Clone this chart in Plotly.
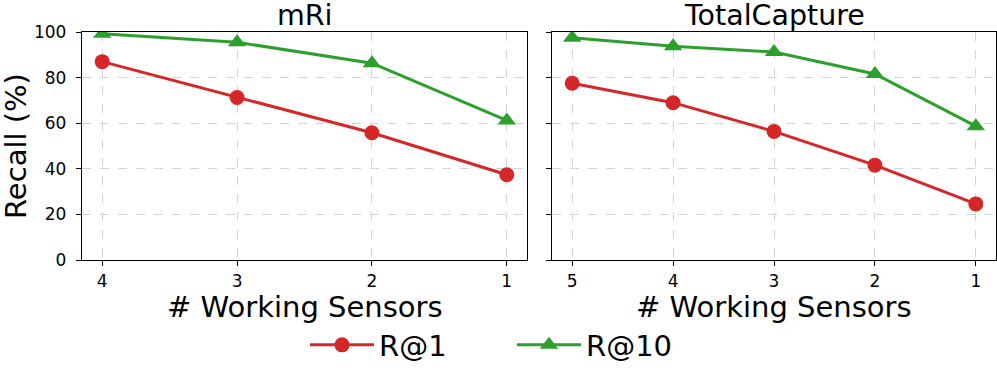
import plotly.graph_objects as go

# ---- data ----
mri_sensors = [4, 3, 2, 1]
mri_r1 = [87.0, 71.3, 55.8, 37.4]
mri_r10 = [99.2, 95.5, 86.3, 61.2]

tc_sensors = [5, 4, 3, 2, 1]
tc_r1 = [77.5, 69.0, 56.4, 41.6, 24.6]
tc_r10 = [97.5, 93.8, 91.2, 81.6, 58.7]

panel_titles = ["mRi", "TotalCapture"]
series_names = ["R@1", "R@10"]
y_ticks = [0, 20, 40, 60, 80, 100]

RED = "#d62728"
GREEN = "#2ca02c"
FONT = "DejaVu Sans"
W, H = 997, 374

fig = go.Figure()

panels = [
    ("x", "y", mri_sensors, mri_r1, mri_r10),
    ("x2", "y2", tc_sensors, tc_r1, tc_r10),
]
for i, (xa, ya, xs, r1, r10) in enumerate(panels):
    fig.add_trace(go.Scatter(
        x=xs, y=r1, xaxis=xa, yaxis=ya, mode="lines+markers", name=series_names[0],
        line=dict(color=RED, width=3), marker=dict(symbol="circle", size=15, color=RED),
        showlegend=(i == 0), legendgroup="r1"))
    fig.add_trace(go.Scatter(
        x=xs, y=r10, xaxis=xa, yaxis=ya, mode="lines+markers", name=series_names[1],
        line=dict(color=GREEN, width=3), marker=dict(symbol="triangle-up", size=16, color=GREEN),
        showlegend=(i == 0), legendgroup="r10"))

dom_x1 = [82 / W, 527 / W]
dom_x2 = [552 / W, 996 / W]
dom_y = [1 - 260 / H, 1 - 32 / H]

common_axis = dict(
    showline=True, linecolor="black", linewidth=1.3, mirror=True,
    ticks="outside", ticklen=5, tickwidth=1.3, tickcolor="black",
    showgrid=True, gridcolor="#d4d4d4", gridwidth=1, griddash="dash",
    zeroline=False, automargin=False,
    tickfont=dict(family=FONT, size=17, color="black"),
)

def xr(xs):
    n = max(xs) - min(xs)
    m = 0.05 * n
    return [max(xs) + m, min(xs) - m]

fig.update_layout(
    xaxis=dict(domain=dom_x1, range=xr(mri_sensors), tickvals=mri_sensors, anchor="y", **common_axis),
    yaxis=dict(domain=dom_y, range=[0, 100], tickvals=y_ticks, anchor="x", ticklabelstandoff=6, **common_axis),
    xaxis2=dict(domain=dom_x2, range=xr(tc_sensors), tickvals=tc_sensors, anchor="y2", **common_axis),
    yaxis2=dict(domain=dom_y, range=[0, 100], tickvals=y_ticks, anchor="x2", showticklabels=False, **common_axis),
)

ann = []
for dom, t in [(dom_x1, panel_titles[0]), (dom_x2, panel_titles[1])]:
    ann.append(dict(text=t, x=(dom[0] + dom[1]) / 2, y=1 - 15 / H, xref="paper", yref="paper",
                    xanchor="center", yanchor="middle", showarrow=False,
                    font=dict(family=FONT, size=28.5, color="black")))
    ann.append(dict(text="# Working Sensors", x=(dom[0] + dom[1]) / 2, y=1 - 307 / H, xref="paper", yref="paper",
                    xanchor="center", yanchor="middle", showarrow=False,
                    font=dict(family=FONT, size=29, color="black")))
ann.append(dict(text="Recall (%)", x=16 / W, y=1 - 146 / H, xref="paper", yref="paper",
                xanchor="center", yanchor="middle", showarrow=False, textangle=-90,
                font=dict(family=FONT, size=29, color="black")))

fig.update_layout(
    annotations=ann,
    width=W, height=H, autosize=False,
    margin=dict(l=0, r=0, t=0, b=0, pad=0),
    paper_bgcolor="white", plot_bgcolor="white",
    font=dict(family=FONT, color="black"),
    legend=dict(orientation="h", x=512 / W, y=1 - 345 / H, xanchor="center", yanchor="middle",
                font=dict(family=FONT, size=29, color="black"), bgcolor="rgba(0,0,0,0)",
                entrywidth=128, itemwidth=64),
)

fig.write_html("out.html", config={"displayModeBar": False},
               post_script="document.body.style.margin='0';")
